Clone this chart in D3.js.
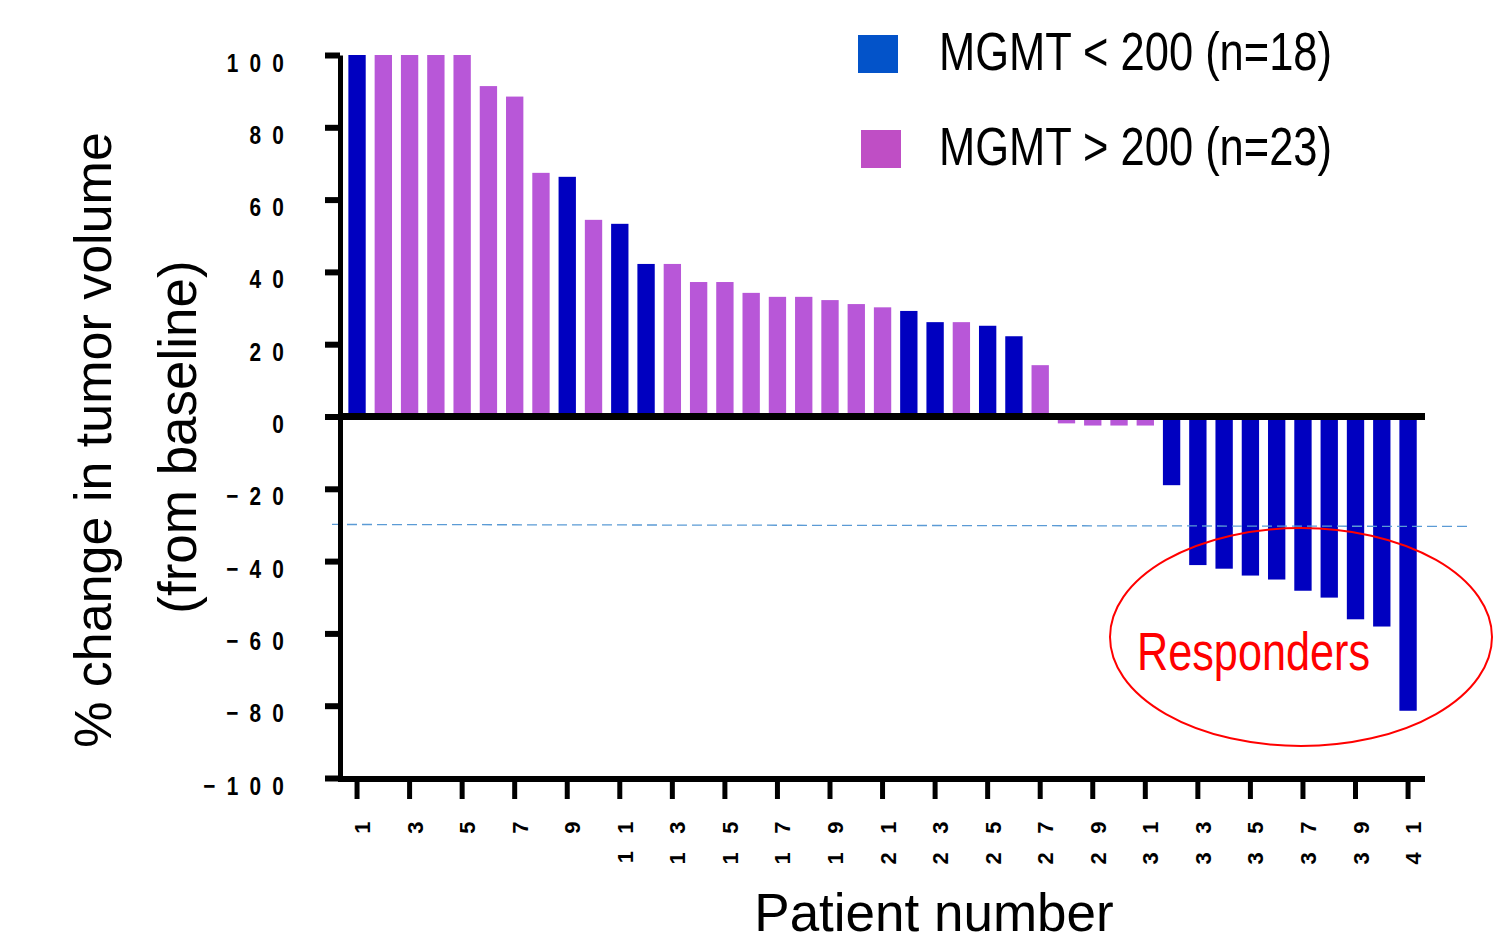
<!DOCTYPE html>
<html>
<head>
<meta charset="utf-8">
<script src="https://cdn.jsdelivr.net/npm/d3@7"></script>
<style>
  body { margin: 0; background: #fff; }
  text { font-family: "Liberation Sans", Arial, sans-serif; }
</style>
</head>
<body>
<div id="chart"></div>
<script>
// patient numbers, waterfall values (% change from baseline) and MGMT group
var patients = [1,2,3,4,5,6,7,8,9,10,11,12,13,14,15,16,17,18,19,20,21,22,23,24,25,26,27,28,29,30,31,32,33,34,35,36,37,38,39,40,41];
var changes = [100,100,100,100,100,91.4,88.5,67.4,66.3,54.4,53.3,42.2,42.2,37.2,37.2,34.2,33.1,33.1,32.2,31.1,30.2,29.2,26.1,26.1,25.1,22.2,14.2,-1.9,-2.5,-2.5,-2.5,-19,-41.1,-42.1,-44,-45.1,-48.2,-50.1,-56.1,-58.1,-81.4];
var groups = ["low","high","high","high","high","high","high","high","low","high","low","low","high","high","high","high","high","high","high","high","high","low","low","high","low","low","high","high","high","high","high","low","low","low","low","low","low","low","low","low","low"];
var yTicks = [100,80,60,40,20,0,-20,-40,-60,-80,-100];
var xTicks = [1,3,5,7,9,11,13,15,17,19,21,23,25,27,29,31,33,35,37,39,41];
var legendLabels = ["MGMT < 200 (n=18)", "MGMT > 200 (n=23)"];
var responseCut = -30;

var barColor = { low: "#0000c0", high: "#b857d8" };
var legendColor = { low: "#0353c9", high: "#bf4ec5" };

var svgWidth = 1503, svgHeight = 946;
var svg = d3.select("#chart").append("svg")
            .attr("width", svgWidth)
            .attr("height", svgHeight);

var x = d3.scaleBand()
          .domain(patients)
          .range([343.9, 1421.2])
          .paddingInner(0.34)
          .paddingOuter(0.17);

var y = d3.scaleLinear()
          .domain([-100, 100])
          .range([778, 55]);

// bars
svg.selectAll("rect.bar")
   .data(patients)
   .enter()
   .append("rect")
   .attr("class", "bar")
   .attr("x", function(d) { return x(d); })
   .attr("y", function(d, i) { return y(Math.max(0, changes[i])); })
   .attr("width", x.bandwidth())
   .attr("height", function(d, i) { return Math.abs(y(changes[i]) - y(0)); })
   .attr("fill", function(d, i) { return barColor[groups[i]]; });

// response threshold (dashed)
svg.append("line")
   .attr("x1", 332).attr("x2", 1468)
   .attr("y1", y(responseCut) - 0.5).attr("y2", y(responseCut) + 1.5)
   .attr("stroke", "#5b9bd5")
   .attr("stroke-width", 1.3)
   .attr("stroke-dasharray", "10,5");

// zero line
svg.append("line")
   .attr("x1", 340).attr("x2", 1425)
   .attr("y1", y(0)).attr("y2", y(0))
   .attr("stroke", "#000")
   .attr("stroke-width", 7);

// bottom axis line
svg.append("line")
   .attr("x1", 338).attr("x2", 1425)
   .attr("y1", 779).attr("y2", 779)
   .attr("stroke", "#000")
   .attr("stroke-width", 6);

// y axis
var yAxis = svg.append("g")
   .attr("transform", "translate(340,0)")
   .call(d3.axisLeft(y).tickValues(yTicks).tickSize(15).tickSizeOuter(0));
yAxis.select(".domain").attr("stroke-width", 5);
yAxis.selectAll(".tick line").attr("stroke-width", 6);
yAxis.selectAll(".tick text")
   .attr("x", null).attr("dy", null)
   .attr("text-anchor", "end")
   .attr("font-size", 26)
   .attr("font-weight", "bold")
   .attr("letter-spacing", 14)
   .attr("font-family", "'Liberation Sans', Arial, sans-serif")
   .attr("fill", "#000")
   .attr("transform", "translate(-45,16) scale(0.8,1)");

// x axis
var xAxis = svg.append("g")
   .attr("transform", "translate(0,779)")
   .call(d3.axisBottom(x).tickValues(xTicks).tickSize(20).tickSizeOuter(0));
xAxis.select(".domain").remove();
xAxis.selectAll(".tick line").attr("stroke-width", 5);
xAxis.selectAll(".tick text")
   .attr("x", null).attr("y", null).attr("dy", null)
   .attr("text-anchor", "end")
   .attr("font-size", 22)
   .attr("font-weight", "bold")
   .attr("letter-spacing", 18.5)
   .attr("font-family", "'Liberation Sans', Arial, sans-serif")
   .attr("fill", "#000")
   .attr("transform", "translate(13,24) rotate(-90)");

// axis titles
svg.append("text")
   .attr("transform", "translate(111,440) rotate(-90)")
   .attr("text-anchor", "middle")
   .attr("font-size", 52)
   .text("% change in tumor volume");
svg.append("text")
   .attr("transform", "translate(196,437) rotate(-90)")
   .attr("text-anchor", "middle")
   .attr("font-size", 53)
   .text("(from baseline)");
svg.append("text")
   .attr("x", 934).attr("y", 931)
   .attr("text-anchor", "middle")
   .attr("font-size", 53)
   .text("Patient number");

// legend
var legend = svg.selectAll("g.legend")
   .data(["low", "high"])
   .enter()
   .append("g")
   .attr("class", "legend");
legend.append("rect")
   .attr("x", function(d, i) { return 858 + i * 3; })
   .attr("y", function(d, i) { return 35 + i * 95; })
   .attr("width", 40).attr("height", 38)
   .attr("fill", function(d) { return legendColor[d]; });
legend.append("text")
   .attr("x", 939)
   .attr("y", function(d, i) { return 70 + i * 95; })
   .attr("font-size", 53)
   .attr("textLength", 393)
   .attr("lengthAdjust", "spacingAndGlyphs")
   .text(function(d, i) { return legendLabels[i]; });

// responders annotation
svg.append("ellipse")
   .attr("cx", 1301).attr("cy", 637)
   .attr("rx", 191).attr("ry", 109)
   .attr("fill", "none")
   .attr("stroke", "#ff0000")
   .attr("stroke-width", 2);
svg.append("text")
   .attr("x", 1137).attr("y", 670)
   .attr("font-size", 53)
   .attr("textLength", 233)
   .attr("lengthAdjust", "spacingAndGlyphs")
   .attr("fill", "#ff0000")
   .text("Responders");
</script>
</body>
</html>
